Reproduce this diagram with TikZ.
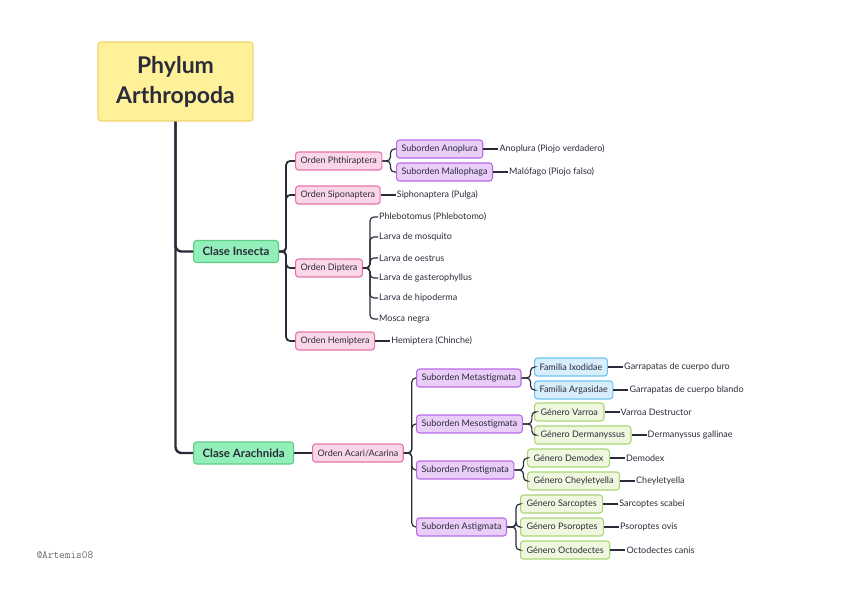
\documentclass[tikz,border=0pt]{standalone}
\usepackage{fontspec}
\setmainfont{Lato}
\usetikzlibrary{positioning}

\definecolor{inkcol}{HTML}{2B2B3A}
\definecolor{yellowfill}{HTML}{FEF19A}
\definecolor{yellowline}{HTML}{F3D56E}
\definecolor{greenfill}{HTML}{92EFB9}
\definecolor{greenline}{HTML}{5FCB86}
\definecolor{pinkfill}{HTML}{FBD6E8}
\definecolor{pinkline}{HTML}{E573A7}
\definecolor{purplefill}{HTML}{E9CEF8}
\definecolor{purpleline}{HTML}{B96AE6}
\definecolor{bluefill}{HTML}{D8EEFB}
\definecolor{blueline}{HTML}{6DC3EF}
\definecolor{lgreenfill}{HTML}{EFF8DE}
\definecolor{lgreenline}{HTML}{A9D676}

\tikzset{
  box/.style={draw, rounded corners=3pt, line width=1.1pt, inner xsep=5pt, inner ysep=0pt,
    minimum height=18pt, text=inkcol, font=\fontsize{9}{10}\selectfont},
  phylumbox/.style={box, fill=yellowfill, draw=yellowline, minimum width=155pt, minimum height=79pt,
    align=center, font=\fontsize{23}{30}\selectfont\bfseries},
  clasebox/.style={box, fill=greenfill, draw=greenline, minimum height=22pt, inner xsep=9pt,
    font=\fontsize{11.5}{12}\selectfont\bfseries},
  ordenbox/.style={box, fill=pinkfill, draw=pinkline},
  subbox/.style={box, fill=purplefill, draw=purpleline},
  famibox/.style={box, fill=bluefill, draw=blueline},
  genbox/.style={box, fill=lgreenfill, draw=lgreenline, inner xsep=6pt},
  leaf/.style={inner sep=1pt, text=inkcol, font=\fontsize{9}{10}\selectfont},
  trunk/.style={draw=inkcol, line width=2.4pt, rounded corners=6pt},
  branch/.style={draw=inkcol, line width=1.8pt, rounded corners=4pt},
  twig/.style={draw=inkcol, line width=1.2pt, rounded corners=4pt},
}

\begin{document}
\begin{tikzpicture}[x=1pt, y=-1pt]
\useasboundingbox (0,0) rectangle (848,599);

% root and classes
\node[phylumbox] (phylum) at (175.5,81.5) {Phylum\\Arthropoda};
\node[clasebox, anchor=west] (insecta) at (193,251.5) {Clase Insecta};
\node[clasebox, anchor=west] (arach) at (193,453) {Clase Arachnida};
\draw[trunk] (phylum.south) |- (insecta.west);
\draw[trunk] (phylum.south) |- (arach.west);

% Clase Insecta
\node[ordenbox, anchor=west] (phth) at (295,161) {Orden Phthiraptera};
\node[ordenbox, anchor=west] (sipo) at (295,195) {Orden Siponaptera};
\node[ordenbox, anchor=west] (dipt) at (295,268) {Orden Diptera};
\node[ordenbox, anchor=west] (hemi) at (295,341) {Orden Hemiptera};
\foreach \c in {phth,sipo,dipt,hemi}
  \draw[branch] (insecta.east) -- ++(7,0) |- (\c.west);

\node[subbox, anchor=west] (anop) at (396,149) {Suborden Anoplura};
\node[subbox, anchor=west] (mall) at (396,172) {Suborden Mallophaga};
\foreach \c in {anop,mall}
  \draw[twig] (phth.east) -- ++(8,0) |- (\c.west);

\node[leaf, right=15pt of anop] (anopL) {Anoplura (Piojo verdadero)};
\node[leaf, right=15pt of mall] (mallL) {Malófago (Piojo falso)};
\node[leaf, right=15pt of sipo] (sipoL) {Siphonaptera (Pulga)};
\node[leaf, right=15pt of hemi] (hemiL) {Hemiptera (Chinche)};
\draw[twig] (anop) -- (anopL);
\draw[twig] (mall) -- (mallL);
\draw[twig] (sipo) -- (sipoL);
\draw[twig] (hemi) -- (hemiL);

\foreach \n/\y/\t in {d1/217/Phlebotomus (Phlebotomo), d2/237/Larva de mosquito,
    d3/258/Larva de oestrus, d4/278/Larva de gasterophyllus,
    d5/298/Larva de hipoderma, d6/319/Mosca negra} {
  \node[leaf, anchor=west] (\n) at (378,\y) {\t};
  \draw[twig] (dipt.east) -- ++(7,0) |- (\n.west);
}

% Clase Arachnida
\node[ordenbox, anchor=west] (acari) at (312,453) {Orden Acari/Acarina};
\draw[branch] (arach) -- (acari);

\node[subbox, anchor=west] (meta) at (416,378) {Suborden Metastigmata};
\node[subbox, anchor=west] (meso) at (416,424) {Suborden Mesostigmata};
\node[subbox, anchor=west] (pros) at (416,470) {Suborden Prostigmata};
\node[subbox, anchor=west] (asti) at (416,527) {Suborden Astigmata};
\foreach \c in {meta,meso,pros,asti}
  \draw[twig] (acari.east) -- ++(8,0) |- (\c.west);

\node[famibox, anchor=west] (ixod) at (534,367) {Familia Ixodidae};
\node[famibox, anchor=west] (arga) at (534,390) {Familia Argasidae};
\foreach \c in {ixod,arga}
  \draw[twig] (meta.east) -- ++(9,0) |- (\c.west);

\node[genbox, anchor=west] (varr) at (534,412) {Género Varroa};
\node[genbox, anchor=west] (derm) at (534,435) {Género Dermanyssus};
\foreach \c in {varr,derm}
  \draw[twig] (meso.east) -- ++(9,0) |- (\c.west);

\node[genbox, anchor=west] (demo) at (527,458) {Género Demodex};
\node[genbox, anchor=west] (chey) at (527,481) {Género Cheyletyella};
\foreach \c in {demo,chey}
  \draw[twig] (pros.east) -- ++(9,0) |- (\c.west);

\node[genbox, anchor=west] (sarc) at (520,504) {Género Sarcoptes};
\node[genbox, anchor=west] (psor) at (520,527) {Género Psoroptes};
\node[genbox, anchor=west] (octo) at (520,550) {Género Octodectes};
\foreach \c in {sarc,psor,octo}
  \draw[twig] (asti.east) -- ++(9,0) |- (\c.west);

\foreach \a/\b/\t in {ixod/ixodL/Garrapatas de cuerpo duro, arga/argaL/Garrapatas de cuerpo blando,
    varr/varrL/Varroa Destructor, derm/dermL/Dermanyssus gallinae,
    demo/demoL/Demodex, chey/cheyL/Cheyletyella,
    sarc/sarcL/Sarcoptes scabei, psor/psorL/Psoroptes ovis, octo/octoL/Octodectes canis} {
  \node[leaf, right=15pt of \a] (\b) {\t};
  \draw[twig] (\a) -- (\b);
}

% watermark
\node[anchor=west, text=black!60, font=\ttfamily\fontsize{11}{12}\selectfont] (mark) at (33,555) {@Artemis08};
\end{tikzpicture}
\end{document}
